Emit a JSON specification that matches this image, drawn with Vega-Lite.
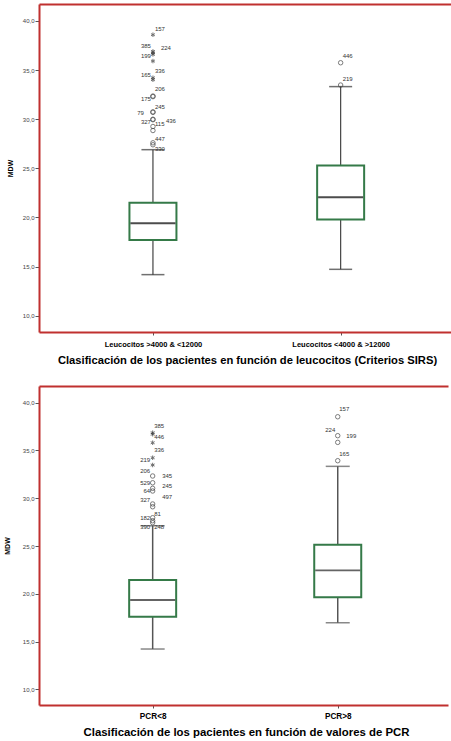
{
  "$schema": "https://vega.github.io/schema/vega-lite/v6.json",
  "autosize": {"type": "pad"},
  "padding": {"left": 3, "top": 4, "right": 0, "bottom": 0},
  "background": "white",
  "spacing": 20,
  "config": {
    "view": {"stroke": null},
    "font": "Liberation Sans",
    "axis": {"grid": false}
  },
  "datasets": {
    "boxA": [
      {"grp": "Leucocitos >4000 & <12000", "lo": 14.18, "q1": 17.71, "med": 19.4, "q3": 21.5, "hi": 26.9},
      {"grp": "Leucocitos <4000 & >12000", "lo": 14.72, "q1": 19.78, "med": 22.06, "q3": 25.28, "hi": 33.32}
    ],
    "outA": [
      {"grp": "Leucocitos >4000 & <12000", "value": 38.6, "kind": "star"},
      {"grp": "Leucocitos >4000 & <12000", "value": 36.9, "kind": "star"},
      {"grp": "Leucocitos >4000 & <12000", "value": 36.75, "kind": "star"},
      {"grp": "Leucocitos >4000 & <12000", "value": 36.6, "kind": "star"},
      {"grp": "Leucocitos >4000 & <12000", "value": 35.92, "kind": "star"},
      {"grp": "Leucocitos >4000 & <12000", "value": 34.22, "kind": "star"},
      {"grp": "Leucocitos >4000 & <12000", "value": 34.02, "kind": "star"},
      {"grp": "Leucocitos >4000 & <12000", "value": 32.36, "kind": "circle"},
      {"grp": "Leucocitos >4000 & <12000", "value": 32.3, "kind": "circle"},
      {"grp": "Leucocitos >4000 & <12000", "value": 30.75, "kind": "circle"},
      {"grp": "Leucocitos >4000 & <12000", "value": 30.7, "kind": "circle"},
      {"grp": "Leucocitos >4000 & <12000", "value": 30.0, "kind": "circle"},
      {"grp": "Leucocitos >4000 & <12000", "value": 29.95, "kind": "circle"},
      {"grp": "Leucocitos >4000 & <12000", "value": 29.26, "kind": "circle"},
      {"grp": "Leucocitos >4000 & <12000", "value": 28.85, "kind": "circle"},
      {"grp": "Leucocitos >4000 & <12000", "value": 27.6, "kind": "circle"},
      {"grp": "Leucocitos >4000 & <12000", "value": 27.4, "kind": "circle"},
      {"grp": "Leucocitos <4000 & >12000", "value": 35.75, "kind": "circle"},
      {"grp": "Leucocitos <4000 & >12000", "value": 33.48, "kind": "circle"}
    ],
    "labA": [
      {"grp": "Leucocitos >4000 & <12000", "value": 39.22, "label": "157", "side": "R"},
      {"grp": "Leucocitos >4000 & <12000", "value": 37.41, "label": "385", "side": "L"},
      {"grp": "Leucocitos >4000 & <12000", "value": 37.25, "label": "224", "side": "RR"},
      {"grp": "Leucocitos >4000 & <12000", "value": 36.39, "label": "199", "side": "L"},
      {"grp": "Leucocitos >4000 & <12000", "value": 34.53, "label": "165", "side": "L"},
      {"grp": "Leucocitos >4000 & <12000", "value": 34.94, "label": "336", "side": "R"},
      {"grp": "Leucocitos >4000 & <12000", "value": 33.03, "label": "206", "side": "R"},
      {"grp": "Leucocitos >4000 & <12000", "value": 32.08, "label": "175", "side": "L"},
      {"grp": "Leucocitos >4000 & <12000", "value": 31.2, "label": "245", "side": "R"},
      {"grp": "Leucocitos >4000 & <12000", "value": 30.62, "label": "79", "side": "LL"},
      {"grp": "Leucocitos >4000 & <12000", "value": 29.71, "label": "327", "side": "L"},
      {"grp": "Leucocitos >4000 & <12000", "value": 29.5, "label": "115", "side": "R"},
      {"grp": "Leucocitos >4000 & <12000", "value": 29.87, "label": "436", "side": "R4"},
      {"grp": "Leucocitos >4000 & <12000", "value": 28.0, "label": "447", "side": "R"},
      {"grp": "Leucocitos >4000 & <12000", "value": 26.92, "label": "330", "side": "R"},
      {"grp": "Leucocitos <4000 & >12000", "value": 36.46, "label": "446", "side": "R"},
      {"grp": "Leucocitos <4000 & >12000", "value": 34.12, "label": "219", "side": "R"}
    ],
    "boxB": [
      {"grp": "PCR<8", "lo": 14.22, "q1": 17.6, "med": 19.35, "q3": 21.44, "hi": 27.12},
      {"grp": "PCR>8", "lo": 16.97, "q1": 19.63, "med": 22.46, "q3": 25.14, "hi": 33.34}
    ],
    "outB": [
      {"grp": "PCR<8", "value": 36.86, "kind": "star"},
      {"grp": "PCR<8", "value": 36.7, "kind": "star"},
      {"grp": "PCR<8", "value": 35.81, "kind": "star"},
      {"grp": "PCR<8", "value": 34.24, "kind": "star"},
      {"grp": "PCR<8", "value": 33.48, "kind": "star"},
      {"grp": "PCR<8", "value": 32.33, "kind": "circle"},
      {"grp": "PCR<8", "value": 31.62, "kind": "circle"},
      {"grp": "PCR<8", "value": 31.04, "kind": "circle"},
      {"grp": "PCR<8", "value": 30.76, "kind": "circle"},
      {"grp": "PCR<8", "value": 29.4, "kind": "circle"},
      {"grp": "PCR<8", "value": 29.11, "kind": "circle"},
      {"grp": "PCR<8", "value": 27.96, "kind": "circle"},
      {"grp": "PCR<8", "value": 27.65, "kind": "circle"},
      {"grp": "PCR<8", "value": 27.44, "kind": "circle"},
      {"grp": "PCR>8", "value": 38.53, "kind": "circle"},
      {"grp": "PCR>8", "value": 36.55, "kind": "circle"},
      {"grp": "PCR>8", "value": 35.85, "kind": "circle"},
      {"grp": "PCR>8", "value": 33.93, "kind": "circle"}
    ],
    "labB": [
      {"grp": "PCR<8", "value": 37.6, "label": "385", "side": "R"},
      {"grp": "PCR<8", "value": 36.45, "label": "446", "side": "R"},
      {"grp": "PCR<8", "value": 35.1, "label": "336", "side": "R"},
      {"grp": "PCR<8", "value": 33.98, "label": "219", "side": "L"},
      {"grp": "PCR<8", "value": 32.9, "label": "206", "side": "L"},
      {"grp": "PCR<8", "value": 32.36, "label": "345", "side": "RRR"},
      {"grp": "PCR<8", "value": 31.62, "label": "529", "side": "L"},
      {"grp": "PCR<8", "value": 31.3, "label": "245", "side": "RRR"},
      {"grp": "PCR<8", "value": 30.76, "label": "64", "side": "L"},
      {"grp": "PCR<8", "value": 30.16, "label": "497", "side": "RRR"},
      {"grp": "PCR<8", "value": 29.8, "label": "327", "side": "L"},
      {"grp": "PCR<8", "value": 27.98, "label": "182", "side": "L"},
      {"grp": "PCR<8", "value": 28.33, "label": "81", "side": "R"},
      {"grp": "PCR<8", "value": 27.0, "label": "390", "side": "L"},
      {"grp": "PCR<8", "value": 27.0, "label": "248", "side": "R"},
      {"grp": "PCR>8", "value": 39.31, "label": "157", "side": "R"},
      {"grp": "PCR>8", "value": 37.14, "label": "224", "side": "L"},
      {"grp": "PCR>8", "value": 36.55, "label": "199", "side": "RR"},
      {"grp": "PCR>8", "value": 34.66, "label": "165", "side": "R"}
    ]
  },
  "vconcat": [
    {
      "width": 412,
      "height": 328,
      "resolve": {"axis": {"x": "independent"}},
      "layer": [
        {
          "data": {"name": "boxA"},
          "mark": {"type": "rule", "color": "#444444", "strokeWidth": 1.2},
          "encoding": {
            "x": {"field": "grp", "type": "nominal", "sort": null,
              "scale": {"type": "point", "padding": 0.5975, "align": 0.508},
              "axis": {"orient": "bottom", "title": "Clasificación de los pacientes en función de leucocitos (Criterios SIRS)",
                "titleFontSize": 11.2, "titleFontWeight": "bold", "titleColor": "#000000", "titlePadding": 7, "titleX": 208,
                "labelFontSize": 7.5, "labelFontWeight": "bold", "labelColor": "#000000", "labelAngle": 0, "labelPadding": 5,
                "tickSize": 3, "tickColor": "#555555", "domainColor": "#c0302f", "domainWidth": 2}},
            "y": {"field": "lo", "type": "quantitative",
              "scale": {"domain": [8.34, 41.73], "nice": false, "zero": false},
              "axis": {"title": "MDW", "titleFontSize": 7, "titleFontWeight": "bold", "titleColor": "#000000", "titlePadding": 9,
                "values": [10, 15, 20, 25, 30, 35, 40], "labelExpr": "replace(format(datum.value, '.1f'), '.', ',')",
                "labelFontSize": 6, "labelColor": "#444444", "labelPadding": 1, "tickSize": 4, "tickColor": "#555555",
                "domainColor": "#c0302f", "domainWidth": 2}},
            "y2": {"field": "hi"}
          }
        },
        {
          "data": {"name": "boxA"},
          "mark": {"type": "tick", "orient": "horizontal", "size": 23, "thickness": 1.5, "color": "#333333"},
          "encoding": {"x": {"field": "grp", "type": "nominal", "sort": null, "axis": null}, "y": {"field": "lo", "type": "quantitative"}}
        },
        {
          "data": {"name": "boxA"},
          "mark": {"type": "tick", "orient": "horizontal", "size": 23, "thickness": 1.5, "color": "#333333"},
          "encoding": {"x": {"field": "grp", "type": "nominal", "sort": null, "axis": null}, "y": {"field": "hi", "type": "quantitative"}}
        },
        {
          "data": {"name": "boxA"},
          "mark": {"type": "bar", "width": 47, "fill": "white", "stroke": "#357a48", "strokeWidth": 2},
          "encoding": {
            "x": {"field": "grp", "type": "nominal", "sort": null,
              "axis": {"orient": "top", "title": null, "labels": false, "ticks": false, "domainColor": "#c0302f", "domainWidth": 2}},
            "y": {"field": "q1", "type": "quantitative"}, "y2": {"field": "q3"}
          }
        },
        {
          "data": {"name": "boxA"},
          "mark": {"type": "tick", "orient": "horizontal", "size": 45, "thickness": 2, "color": "#000000"},
          "encoding": {"x": {"field": "grp", "type": "nominal", "sort": null, "axis": null}, "y": {"field": "med", "type": "quantitative"}}
        },
        {
          "data": {"name": "outA"},
          "transform": [{"filter": "datum.kind === 'circle'"}],
          "mark": {"type": "point", "shape": "circle", "filled": false, "size": 20, "stroke": "#444444", "strokeWidth": 1},
          "encoding": {"x": {"field": "grp", "type": "nominal", "sort": null, "axis": null}, "y": {"field": "value", "type": "quantitative"}}
        },
        {
          "data": {"name": "outA"},
          "transform": [{"filter": "datum.kind === 'star'"}],
          "mark": {"type": "point", "shape": "M0,-1L0,1M-0.87,-0.5L0.87,0.5M-0.87,0.5L0.87,-0.5", "filled": false, "size": 20, "stroke": "#333333", "strokeWidth": 1},
          "encoding": {"x": {"field": "grp", "type": "nominal", "sort": null, "axis": null}, "y": {"field": "value", "type": "quantitative"}}
        },
        {
          "data": {"name": "labA"},
          "transform": [{"filter": "datum.side === 'L'"}],
          "mark": {"type": "text", "align": "right", "baseline": "middle", "dx": -2, "fontSize": 6, "color": "#333333"},
          "encoding": {"x": {"field": "grp", "type": "nominal", "sort": null, "axis": null}, "y": {"field": "value", "type": "quantitative"}, "text": {"field": "label"}}
        },
        {
          "data": {"name": "labA"},
          "transform": [{"filter": "datum.side === 'LL'"}],
          "mark": {"type": "text", "align": "right", "baseline": "middle", "dx": -9, "fontSize": 6, "color": "#333333"},
          "encoding": {"x": {"field": "grp", "type": "nominal", "sort": null, "axis": null}, "y": {"field": "value", "type": "quantitative"}, "text": {"field": "label"}}
        },
        {
          "data": {"name": "labA"},
          "transform": [{"filter": "datum.side === 'R'"}],
          "mark": {"type": "text", "align": "left", "baseline": "middle", "dx": 2, "fontSize": 6, "color": "#333333"},
          "encoding": {"x": {"field": "grp", "type": "nominal", "sort": null, "axis": null}, "y": {"field": "value", "type": "quantitative"}, "text": {"field": "label"}}
        },
        {
          "data": {"name": "labA"},
          "transform": [{"filter": "datum.side === 'RR'"}],
          "mark": {"type": "text", "align": "left", "baseline": "middle", "dx": 8, "fontSize": 6, "color": "#333333"},
          "encoding": {"x": {"field": "grp", "type": "nominal", "sort": null, "axis": null}, "y": {"field": "value", "type": "quantitative"}, "text": {"field": "label"}}
        },
        {
          "data": {"name": "labA"},
          "transform": [{"filter": "datum.side === 'R4'"}],
          "mark": {"type": "text", "align": "left", "baseline": "middle", "dx": 13, "fontSize": 6, "color": "#333333"},
          "encoding": {"x": {"field": "grp", "type": "nominal", "sort": null, "axis": null}, "y": {"field": "value", "type": "quantitative"}, "text": {"field": "label"}}
        }
      ]
    },
    {
      "width": 409,
      "height": 319,
      "resolve": {"axis": {"x": "independent"}},
      "layer": [
        {
          "data": {"name": "boxB"},
          "mark": {"type": "rule", "color": "#555555", "strokeWidth": 1.5},
          "encoding": {
            "x": {"field": "grp", "type": "nominal", "sort": null,
              "scale": {"type": "point", "padding": 0.605, "align": 0.5076},
              "axis": {"orient": "bottom", "title": "Clasificación de los pacientes en función de valores de PCR",
                "titleFontSize": 11.4, "titleFontWeight": "bold", "titleColor": "#000000", "titlePadding": 7, "titleX": 207,
                "labelFontSize": 8.2, "labelFontWeight": "bold", "labelColor": "#000000", "labelAngle": 0, "labelPadding": 4,
                "tickSize": 3, "tickColor": "#555555", "domainColor": "#c0302f", "domainWidth": 2}},
            "y": {"field": "lo", "type": "quantitative",
              "scale": {"domain": [8.36, 41.75], "nice": false, "zero": false},
              "axis": {"title": "MDW", "titleFontSize": 7, "titleFontWeight": "bold", "titleColor": "#000000", "titlePadding": 12,
                "values": [10, 15, 20, 25, 30, 35, 40], "labelExpr": "replace(format(datum.value, '.1f'), '.', ',')",
                "labelFontSize": 6, "labelColor": "#444444", "labelPadding": 1, "tickSize": 4, "tickColor": "#555555",
                "domainColor": "#c0302f", "domainWidth": 2}},
            "y2": {"field": "hi"}
          }
        },
        {
          "data": {"name": "boxB"},
          "mark": {"type": "tick", "orient": "horizontal", "size": 24, "thickness": 1.5, "color": "#555555"},
          "encoding": {"x": {"field": "grp", "type": "nominal", "sort": null, "axis": null}, "y": {"field": "lo", "type": "quantitative"}}
        },
        {
          "data": {"name": "boxB"},
          "mark": {"type": "tick", "orient": "horizontal", "size": 24, "thickness": 1.5, "color": "#555555"},
          "encoding": {"x": {"field": "grp", "type": "nominal", "sort": null, "axis": null}, "y": {"field": "hi", "type": "quantitative"}}
        },
        {
          "data": {"name": "boxB"},
          "mark": {"type": "bar", "width": 47, "fill": "white", "stroke": "#357a48", "strokeWidth": 2},
          "encoding": {
            "x": {"field": "grp", "type": "nominal", "sort": null,
              "axis": {"orient": "top", "title": null, "labels": false, "ticks": false, "domainColor": "#c0302f", "domainWidth": 2}},
            "y": {"field": "q1", "type": "quantitative"}, "y2": {"field": "q3"}
          }
        },
        {
          "data": {"name": "boxB"},
          "mark": {"type": "tick", "orient": "horizontal", "size": 45, "thickness": 1.8, "color": "#222222"},
          "encoding": {"x": {"field": "grp", "type": "nominal", "sort": null, "axis": null}, "y": {"field": "med", "type": "quantitative"}}
        },
        {
          "data": {"name": "outB"},
          "transform": [{"filter": "datum.kind === 'circle'"}],
          "mark": {"type": "point", "shape": "circle", "filled": false, "size": 20, "stroke": "#444444", "strokeWidth": 1},
          "encoding": {"x": {"field": "grp", "type": "nominal", "sort": null, "axis": null}, "y": {"field": "value", "type": "quantitative"}}
        },
        {
          "data": {"name": "outB"},
          "transform": [{"filter": "datum.kind === 'star'"}],
          "mark": {"type": "point", "shape": "M0,-1L0,1M-0.87,-0.5L0.87,0.5M-0.87,0.5L0.87,-0.5", "filled": false, "size": 20, "stroke": "#333333", "strokeWidth": 1},
          "encoding": {"x": {"field": "grp", "type": "nominal", "sort": null, "axis": null}, "y": {"field": "value", "type": "quantitative"}}
        },
        {
          "data": {"name": "labB"},
          "transform": [{"filter": "datum.side === 'L'"}],
          "mark": {"type": "text", "align": "right", "baseline": "middle", "dx": -2.5, "fontSize": 6, "color": "#333333"},
          "encoding": {"x": {"field": "grp", "type": "nominal", "sort": null, "axis": null}, "y": {"field": "value", "type": "quantitative"}, "text": {"field": "label"}}
        },
        {
          "data": {"name": "labB"},
          "transform": [{"filter": "datum.side === 'R'"}],
          "mark": {"type": "text", "align": "left", "baseline": "middle", "dx": 1.5, "fontSize": 6, "color": "#333333"},
          "encoding": {"x": {"field": "grp", "type": "nominal", "sort": null, "axis": null}, "y": {"field": "value", "type": "quantitative"}, "text": {"field": "label"}}
        },
        {
          "data": {"name": "labB"},
          "transform": [{"filter": "datum.side === 'RR'"}],
          "mark": {"type": "text", "align": "left", "baseline": "middle", "dx": 8.5, "fontSize": 6, "color": "#333333"},
          "encoding": {"x": {"field": "grp", "type": "nominal", "sort": null, "axis": null}, "y": {"field": "value", "type": "quantitative"}, "text": {"field": "label"}}
        },
        {
          "data": {"name": "labB"},
          "transform": [{"filter": "datum.side === 'RRR'"}],
          "mark": {"type": "text", "align": "left", "baseline": "middle", "dx": 9.5, "fontSize": 6, "color": "#333333"},
          "encoding": {"x": {"field": "grp", "type": "nominal", "sort": null, "axis": null}, "y": {"field": "value", "type": "quantitative"}, "text": {"field": "label"}}
        }
      ]
    }
  ]
}
